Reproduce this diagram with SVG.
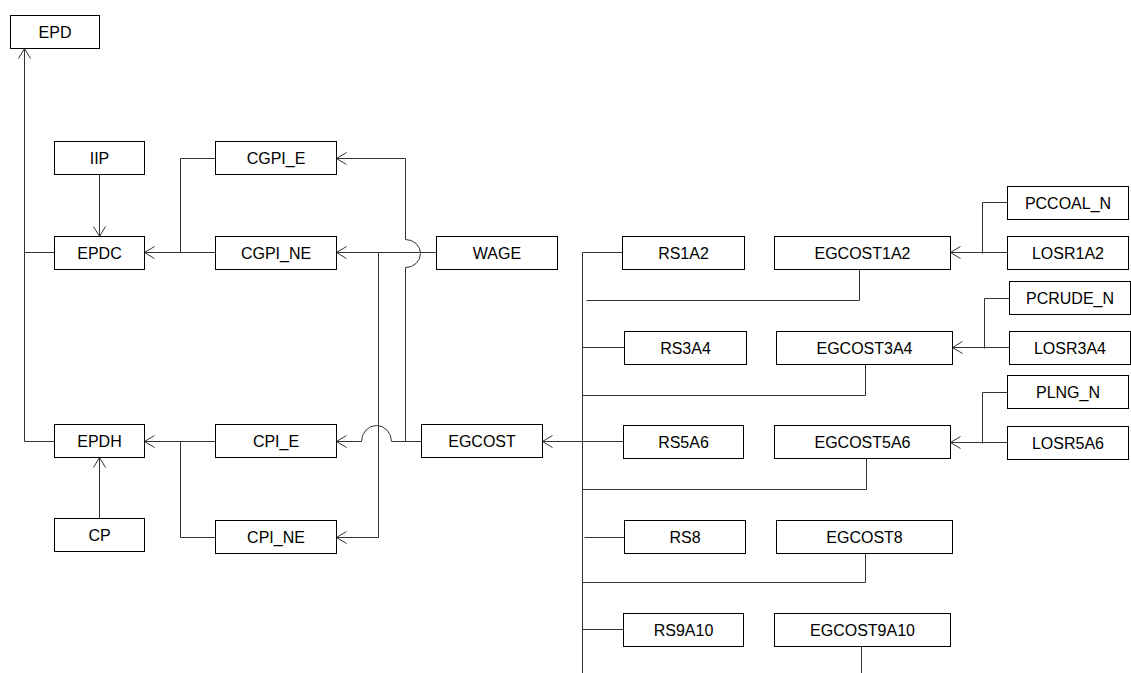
<svg xmlns="http://www.w3.org/2000/svg" width="1131" height="673" viewBox="0 0 1131 673">
<style>
.n rect{fill:#fff;stroke:#000;stroke-width:1}
.n text{font-family:"Liberation Sans",Arial,sans-serif;font-size:16px;fill:#000;text-anchor:middle}
.c path{fill:none;stroke:#333;stroke-width:1}
.a{marker-end:url(#arr)}
</style>
<defs>
<marker id="arr" markerUnits="userSpaceOnUse" markerWidth="14" markerHeight="14" viewBox="-12 -7 14 14" refX="0" refY="0" orient="auto">
<path d="M-10,-6 L0,0 L-10,6" fill="none" stroke="#333" stroke-width="1"/>
</marker>
</defs>
<rect x="0" y="0" width="1131" height="673" fill="#fff"/>
<g transform="translate(0.5,0.5)">
<g id="connectors" class="c">
<path class="a" d="M54,441 H24 V48"/>
<path d="M54,252 H24"/>
<path class="a" d="M99,174 V236"/>
<path class="a" d="M99,518 V457"/>
<path class="a" d="M215,158 H180 V252 H144"/>
<path d="M215,252 H180"/>
<path class="a" d="M215,441 H144"/>
<path d="M215,537 H180 V441"/>
<path class="a" d="M436,252 H336"/>
<path class="a" d="M378,252 V537 H336"/>
<path class="a" d="M421,441 H405 V267 A15,14 0 0 0 405,239 V158 H336"/>
<path class="a" d="M405,441 H391 A15,16 0 0 0 361,441 H336"/>
<path d="M582,252 V673"/>
<path d="M622,252 H582"/>
<path class="a" d="M582,441 H542"/>
<path d="M624,347 H582"/>
<path d="M623,441 H582"/>
<path d="M624,537 H584"/>
<path d="M623,629 H582"/>
<path d="M859,269 V300 H586"/>
<path d="M865,364 V395 H582"/>
<path d="M866,458 V489 H582"/>
<path d="M865,553 V582 H582"/>
<path d="M861,646 V673"/>
<path class="a" d="M1007,252 H950"/>
<path d="M1007,202 H982 V253"/>
<path class="a" d="M1009,347 H952"/>
<path d="M1009,298 H984 V348"/>
<path class="a" d="M1007,442 H950"/>
<path d="M1007,392 H982 V443"/>
</g>
<g id="EPD" class="n"><rect x="10" y="15" width="89" height="33"/><text x="54.5" y="37.5">EPD</text></g>
<g id="IIP" class="n"><rect x="54" y="141" width="90" height="33"/><text x="99" y="163.5">IIP</text></g>
<g id="EPDC" class="n"><rect x="54" y="236" width="90" height="33"/><text x="99" y="258.5">EPDC</text></g>
<g id="EPDH" class="n"><rect x="54" y="424" width="90" height="33"/><text x="99" y="446.5">EPDH</text></g>
<g id="CP" class="n"><rect x="54" y="518" width="90" height="33"/><text x="99" y="540.5">CP</text></g>
<g id="CGPI_E" class="n"><rect x="215" y="141" width="121" height="33"/><text x="275.5" y="163.5">CGPI_E</text></g>
<g id="CGPI_NE" class="n"><rect x="215" y="236" width="121" height="33"/><text x="275.5" y="258.5">CGPI_NE</text></g>
<g id="CPI_E" class="n"><rect x="215" y="424" width="121" height="33"/><text x="275.5" y="446.5">CPI_E</text></g>
<g id="CPI_NE" class="n"><rect x="215" y="520" width="121" height="33"/><text x="275.5" y="542.5">CPI_NE</text></g>
<g id="WAGE" class="n"><rect x="436" y="236" width="121" height="33"/><text x="496.5" y="258.5">WAGE</text></g>
<g id="EGCOST" class="n"><rect x="421" y="424" width="121" height="33"/><text x="481.5" y="446.5">EGCOST</text></g>
<g id="RS1A2" class="n"><rect x="622" y="236" width="122" height="33"/><text x="683" y="258.5">RS1A2</text></g>
<g id="EGCOST1A2" class="n"><rect x="774" y="236" width="176" height="33"/><text x="862" y="258.5">EGCOST1A2</text></g>
<g id="PCCOAL_N" class="n"><rect x="1007" y="186" width="121" height="33"/><text x="1067.5" y="208.5">PCCOAL_N</text></g>
<g id="LOSR1A2" class="n"><rect x="1007" y="236" width="121" height="33"/><text x="1067.5" y="258.5">LOSR1A2</text></g>
<g id="RS3A4" class="n"><rect x="624" y="331" width="122" height="33"/><text x="685" y="353.5">RS3A4</text></g>
<g id="EGCOST3A4" class="n"><rect x="776" y="331" width="176" height="33"/><text x="864" y="353.5">EGCOST3A4</text></g>
<g id="PCRUDE_N" class="n"><rect x="1009" y="281" width="121" height="33"/><text x="1069.5" y="303.5">PCRUDE_N</text></g>
<g id="LOSR3A4" class="n"><rect x="1009" y="331" width="121" height="33"/><text x="1069.5" y="353.5">LOSR3A4</text></g>
<g id="PLNG_N" class="n"><rect x="1007" y="375" width="121" height="33"/><text x="1067.5" y="397.5">PLNG_N</text></g>
<g id="LOSR5A6" class="n"><rect x="1007" y="426" width="121" height="33"/><text x="1067.5" y="448.5">LOSR5A6</text></g>
<g id="RS5A6" class="n"><rect x="623" y="425" width="120" height="33"/><text x="683" y="447.5">RS5A6</text></g>
<g id="EGCOST5A6" class="n"><rect x="774" y="425" width="176" height="33"/><text x="862" y="447.5">EGCOST5A6</text></g>
<g id="RS8" class="n"><rect x="624" y="520" width="121" height="33"/><text x="684.5" y="542.5">RS8</text></g>
<g id="EGCOST8" class="n"><rect x="776" y="520" width="176" height="33"/><text x="864" y="542.5">EGCOST8</text></g>
<g id="RS9A10" class="n"><rect x="623" y="613" width="120" height="33"/><text x="683" y="635.5">RS9A10</text></g>
<g id="EGCOST9A10" class="n"><rect x="774" y="613" width="176" height="33"/><text x="862" y="635.5">EGCOST9A10</text></g>
</g>
</svg>
